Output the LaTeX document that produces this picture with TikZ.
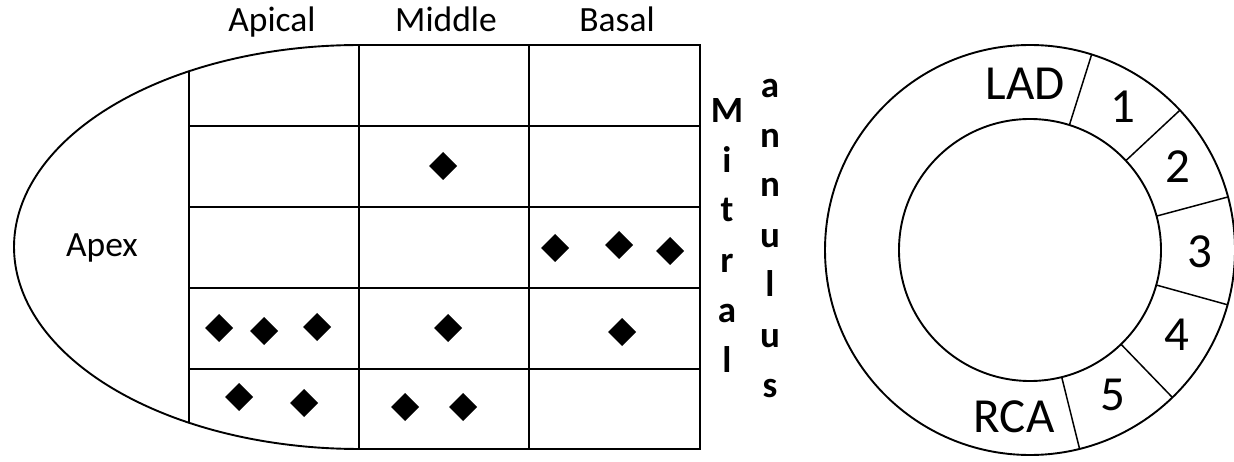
\documentclass[tikz,border=0pt]{standalone}
\usepackage{fontspec}
\setmainfont{Carlito}
\usetikzlibrary{calc}
\begin{document}
\begin{tikzpicture}[x=1pt,y=-1pt,
  gridline/.style={line width=2.6pt},
  thinline/.style={line width=1.9pt},
  radline/.style={line width=1.5pt},
  lbl/.style={font=\fontsize{35.5}{40}\selectfont, inner sep=0pt, anchor=base},
  vlet/.style={font=\bfseries\fontsize{37}{40}\selectfont, inner sep=0pt, anchor=base},
  big/.style={font=\fontsize{49}{52}\selectfont, inner sep=0pt, anchor=base},
  dia/.style={fill=black}]
\useasboundingbox (0,0) rectangle (1234,462);
% ellipse-like outline
\draw[thinline] plot[domain=90:270, samples=80, smooth] ({359+345*cos(\x)},{247-202*sin(\x)});
% grid
\draw[gridline] (359,45) rectangle (700,449);
\draw[gridline] (189,71) -- (189,423);
\draw[gridline] (529,45) -- (529,449);
\foreach \y in {126,207,288,369} \draw[gridline] (189,\y) -- (700,\y);
% labels
\node[lbl] (apical) at (272,32) {Apical};
\node[lbl] (middle) at (446,32) {Middle};
\node[lbl] (basal) at (617,32) {Basal};
\node[lbl] (apex) at (102,257) {Apex};
% Mitral annulus vertical
\foreach \c/\yb [count=\i] in {M/123,i/173,t/222,r/273,a/323,l/372}
  \node[vlet] (mit\i) at (727,\yb) {\c};
\foreach \c/\yb [count=\i] in {a/98,n/148,n/197,u/248,l/297,u/347,s/397}
  \node[vlet] (ann\i) at (770,\yb) {\c};
% diamonds
\foreach \x/\y in {443/166, 555/248, 619/245, 670/251, 219/328, 264/331, 317/327, 448/328, 622/332, 239/397, 304/403, 405/407, 463/407}
  \fill[dia] (\x-14,\y) -- (\x,\y-14) -- (\x+14,\y) -- (\x,\y+14) -- cycle;
% ring
\coordinate (c) at (1030,250);
\draw[thinline] (c) circle[radius=205pt];
\draw[thinline] (c) circle[radius=131pt];
\foreach \a in {72.5,43,15,-15.5,-46,-76}
  \draw[radline] ($(c)+(\a:131pt)$) -- ($(c)+(\a:205pt)$);
\node[big] (lad) at (1025,100) {LAD};
\node[big] (s1) at (1123,123) {1};
\node[big] (s2) at (1178,183) {2};
\node[big] (s3) at (1200,268) {3};
\node[big] (s4) at (1177,350) {4};
\node[big] (s5) at (1113,410) {5};
\node[big] (rca) at (1014,432) {RCA};
\end{tikzpicture}
\end{document}
